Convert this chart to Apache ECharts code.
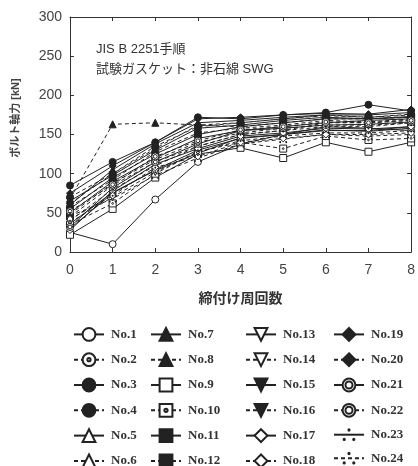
<!DOCTYPE html>
<html><head><meta charset="utf-8">
<script src="https://cdn.jsdelivr.net/npm/echarts@6/dist/echarts.min.js"></script>
<style>html,body{margin:0;padding:0;background:#fff}#c{width:418px;height:466px}</style>
</head><body><div id="c"></div>
<script>
const xValues = [0, 1, 2, 3, 4, 5, 6, 7, 8];
const yTicks = [0, 50, 100, 150, 200, 250, 300];
const seriesNames = ['No.1','No.2','No.3','No.4','No.5','No.6','No.7','No.8','No.9','No.10','No.11','No.12',
  'No.13','No.14','No.15','No.16','No.17','No.18','No.19','No.20','No.21','No.22','No.23','No.24'];
const no1  = [25, 10, 67, 115, 138, 150, 160, 158, 155];
const no2  = [45, 85, 115, 135, 150, 155, 165, 165, 168];
const no3  = [85, 115, 140, 172, 170, 175, 178, 188, 180];
const no4  = [70, 100, 135, 160, 165, 170, 175, 172, 175];
const no5  = [50, 90, 120, 145, 155, 160, 165, 168, 170];
const no6  = [40, 80, 110, 135, 150, 155, 160, 160, 165];
const no7  = [60, 105, 138, 165, 168, 172, 175, 175, 178];
const no8  = [68, 163, 165, 162, 160, 165, 170, 170, 172];
const no9  = [22, 55, 95, 125, 133, 120, 140, 128, 140];
const no10 = [35, 62, 100, 128, 140, 132, 148, 143, 145];
const no11 = [55, 95, 125, 150, 160, 165, 170, 170, 172];
const no12 = [48, 88, 118, 140, 152, 158, 162, 162, 165];
const no13 = [30, 75, 105, 130, 145, 150, 155, 155, 160];
const no14 = [38, 70, 102, 128, 142, 148, 152, 152, 155];
const no15 = [65, 98, 130, 158, 162, 168, 172, 170, 173];
const no16 = [58, 92, 128, 152, 158, 162, 168, 166, 170];
const no17 = [28, 78, 112, 132, 148, 152, 158, 157, 160];
const no18 = [42, 72, 108, 122, 140, 145, 150, 150, 152];
const no19 = [75, 110, 140, 170, 172, 175, 177, 176, 182];
const no20 = [62, 100, 132, 162, 165, 170, 174, 172, 176];
const no21 = [32, 82, 115, 138, 155, 158, 162, 163, 166];
const no22 = [52, 86, 122, 142, 156, 160, 166, 165, 168];
const no23 = [36, 76, 104, 126, 146, 150, 156, 154, 158];
const no24 = [46, 68, 98, 120, 138, 144, 150, 148, 150];
const allValues = [no1,no2,no3,no4,no5,no6,no7,no8,no9,no10,no11,no12,no13,no14,no15,no16,no17,no18,no19,no20,no21,no22,no23,no24];

const INK = '#222';
const P_CIRCLE_DOT = 'path://M0,10A10,10,0,1,1,20,10A10,10,0,1,1,0,10ZM7.5,10A2.5,2.5,0,1,1,12.5,10A2.5,2.5,0,1,1,7.5,10Z';
const P_RECT_DOT = 'path://M0,0L20,0L20,20L0,20ZM7.5,10A2.5,2.5,0,1,1,12.5,10A2.5,2.5,0,1,1,7.5,10Z';
const P_DOUBLE = 'path://M0,10A10,10,0,1,1,20,10A10,10,0,1,1,0,10ZM4.5,10A5.5,5.5,0,1,1,15.5,10A5.5,5.5,0,1,1,4.5,10Z';
const P_DOTS = 'path://M7.5,3A2.5,2.5,0,1,1,12.5,3A2.5,2.5,0,1,1,7.5,3ZM0,17A2.5,2.5,0,1,1,5,17A2.5,2.5,0,1,1,0,17ZM15,17A2.5,2.5,0,1,1,20,17A2.5,2.5,0,1,1,15,17Z';
// [symbol, filled, rotate]
const markers = [
  ['circle', false, 0], [P_CIRCLE_DOT, false, 0], ['circle', true, 0], ['circle', true, 0],
  ['triangle', false, 0], ['triangle', false, 0], ['triangle', true, 0], ['triangle', true, 0],
  ['rect', false, 0], [P_RECT_DOT, false, 0], ['rect', true, 0], ['rect', true, 0],
  ['triangle', false, 180], ['triangle', false, 180], ['triangle', true, 180], ['triangle', true, 180],
  ['diamond', false, 0], ['diamond', false, 0], ['diamond', true, 0], ['diamond', true, 0],
  [P_DOUBLE, false, 0], [P_DOUBLE, false, 0], [P_DOTS, true, 0], [P_DOTS, true, 0]
];

const series = seriesNames.map((name, i) => {
  const m = markers[i];
  const dashed = (i % 2) === 1;
  return {
    name: name,
    type: 'line',
    xAxisIndex: 0, yAxisIndex: 0,
    data: xValues.map((x, j) => [x, allValues[i][j]]),
    symbol: m[0],
    symbolSize: (m[0] === P_DOTS) ? 8 : 7,
    symbolRotate: m[2],
    lineStyle: { color: INK, width: 1, type: dashed ? [4, 3] : 'solid' },
    itemStyle: m[1]
      ? { color: INK, borderColor: INK, borderWidth: (m[0] === P_DOTS ? 0 : 1) }
      : { color: '#fff', borderColor: INK, borderWidth: 1 },
    emphasis: { disabled: true },
    z: 2
  };
});

const SERIF = '"Liberation Serif", "DejaVu Serif", serif';
const SANS = '"Liberation Sans", "Noto Sans CJK JP", sans-serif';
const JP = '"Liberation Sans", "Noto Sans CJK JP", sans-serif';

function legendCol(col, left) {
  return {
    orient: 'vertical',
    left: left, top: 327, height: 180,
    padding: 0,
    itemWidth: 30, itemHeight: 16, itemGap: 10.5,
    data: seriesNames.slice(col * 6, col * 6 + 6),
    textStyle: { fontFamily: SERIF, fontSize: 13, color: '#333', fontWeight: 'bold', padding: [0, 0, 0, 2] },
    selectedMode: false
  };
}

const axisCommon = {
  axisLine: { show: true, onZero: false, lineStyle: { color: '#333', width: 1 } },
  axisTick: { show: true, inside: true, length: 4, lineStyle: { color: '#333' } },
  splitLine: { show: false }
};

const option = {
  animation: false,
  backgroundColor: '#fff',
  title: {
    text: 'JIS B 2251手順\n試験ガスケット：非石綿 SWG',
    left: 91, top: 34,
    textStyle: { fontFamily: JP, fontSize: 13, fontWeight: 'normal', color: '#333', lineHeight: 20 }
  },
  grid: { left: 70, right: 2, top: 17, bottom: 214, containLabel: false },
  xAxis: [
    Object.assign({}, axisCommon, {
      type: 'value', min: 0, max: 8, interval: 1, position: 'bottom',
      name: '締付け周回数', nameLocation: 'middle', nameGap: 40,
      nameTextStyle: { fontFamily: JP, fontSize: 14, fontWeight: 'bold', color: '#333' },
      axisLabel: { fontFamily: SANS, fontSize: 14, color: '#444', margin: 11 }
    }),
    Object.assign({}, axisCommon, {
      type: 'value', min: 0, max: 8, interval: 1, position: 'top',
      axisLabel: { show: false }
    })
  ],
  yAxis: [
    Object.assign({}, axisCommon, {
      type: 'value', min: yTicks[0], max: yTicks[yTicks.length - 1], interval: 50, position: 'left',
      axisLabel: { fontFamily: SANS, fontSize: 14, color: '#444', margin: 8 }
    }),
    Object.assign({}, axisCommon, {
      type: 'value', min: yTicks[0], max: yTicks[yTicks.length - 1], interval: 50, position: 'right',
      axisLabel: { show: false }
    })
  ],
  graphic: [{
    type: 'text', x: 16, y: 118, rotation: Math.PI / 2,
    style: { text: 'ボルト軸力 [kN]', fontFamily: JP, fontSize: 11, fontWeight: 'bold', fill: '#444', align: 'center', verticalAlign: 'middle' }
  }],
  legend: [legendCol(0, 73), legendCol(1, 150), legendCol(2, 245), legendCol(3, 333)],
  series: series
};

const chart = echarts.init(document.getElementById('c'), null, { renderer: 'canvas' });
chart.setOption(option);
</script>
</body></html>
